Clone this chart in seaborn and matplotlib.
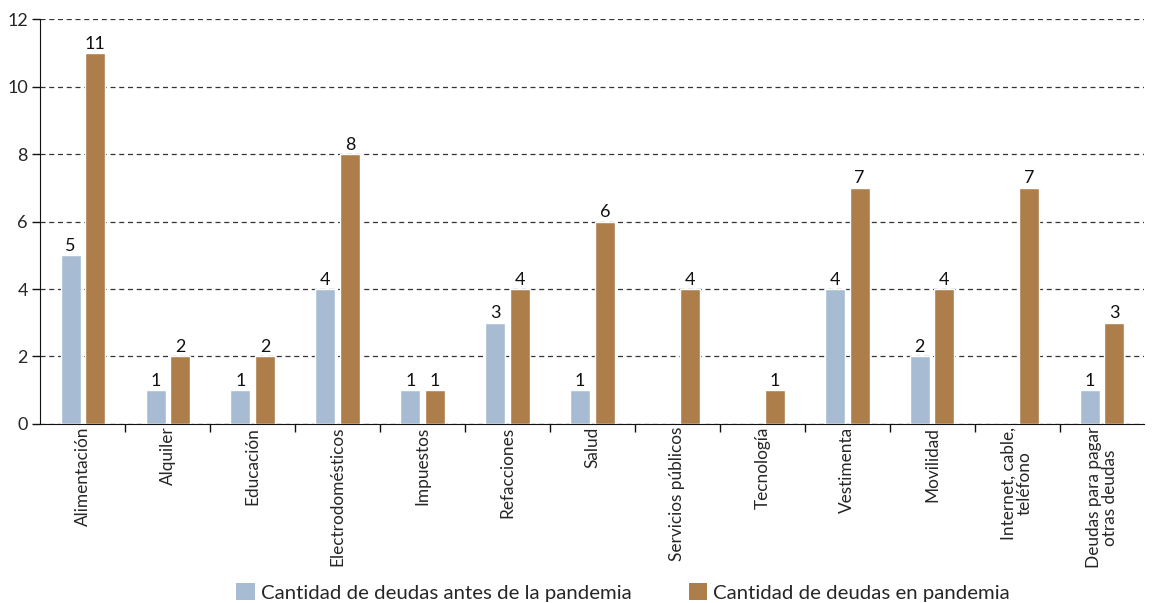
import seaborn as sns
import pandas as pd
import matplotlib.pyplot as plt
from matplotlib.patches import Patch
from matplotlib.ticker import FixedLocator

# datos
categorias = ['Alimentación', 'Alquiler', 'Educación', 'Electrodomésticos', 'Impuestos',
              'Refacciones', 'Salud', 'Servicios públicos', 'Tecnología', 'Vestimenta',
              'Movilidad', 'Internet, cable,\nteléfono', 'Deudas para pagar\notras deudas']
antes = [5, 1, 1, 4, 1, 3, 1, 0, 0, 4, 2, 0, 1]
en_pandemia = [11, 2, 2, 8, 1, 4, 6, 4, 1, 7, 4, 7, 3]
series = ['Cantidad de deudas antes de la pandemia', 'Cantidad de deudas en pandemia']
colores = ['#a7bcd2', '#ad7d4a']

df = pd.DataFrame({
    'categoria': categorias * 2,
    'valor': antes + en_pandemia,
    'serie': [series[0]] * len(categorias) + [series[1]] * len(categorias),
})

sns.set_style('white')
plt.rcParams['font.family'] = ['Lato', 'DejaVu Sans']

fig, ax = plt.subplots(figsize=(11.56, 6.03), dpi=100)
fig.subplots_adjust(left=0.035, right=0.99, top=0.968, bottom=0.297)

sns.barplot(data=df, x='categoria', y='valor', hue='serie', palette=colores,
            saturation=1, width=0.58, gap=0.19, legend=False, ax=ax, zorder=3)

# etiquetas de valores (sin ceros)
for cont, vals in zip(ax.containers, [antes, en_pandemia]):
    ax.bar_label(cont, labels=[str(v) if v > 0 else '' for v in vals],
                 padding=1, fontsize=13, color='#111111')

ax.set_ylim(0, 12)
ax.set_xlim(-0.5, len(categorias) - 0.5)
ax.set_yticks(range(0, 13, 2))
ax.yaxis.grid(True, linestyle=(0, (4, 3)), color='#333333', linewidth=0.9)
ax.set_axisbelow(True)
ax.set_xlabel('')
ax.set_ylabel('')

ax.set_xticks(range(len(categorias)))
ax.set_xticklabels(categorias, rotation=90, fontsize=12.4, linespacing=1.0)
ax.tick_params(axis='x', which='major', bottom=True, length=0, pad=2)
ax.xaxis.set_minor_locator(FixedLocator([i + 0.5 for i in range(len(categorias) - 1)]))
ax.tick_params(axis='x', which='minor', bottom=True, length=6, width=1,
               color='#111111', direction='out')
ax.tick_params(axis='y', left=True, length=6, width=1, color='#111111',
               labelsize=13, direction='out', pad=3)

sns.despine(ax=ax)
ax.spines['left'].set_color('#111111')
ax.spines['bottom'].set_color('#111111')

handles = [Patch(facecolor=c, edgecolor='none') for c in colores]
fig.legend(handles, series, loc='lower center', bbox_to_anchor=(0.539, -0.028), ncol=2,
           frameon=False, fontsize=14.7, handlelength=0.9, handleheight=0.9,
           handletextpad=0.3, columnspacing=2.8)

plt.savefig('out.png', dpi=100)
plt.close()
